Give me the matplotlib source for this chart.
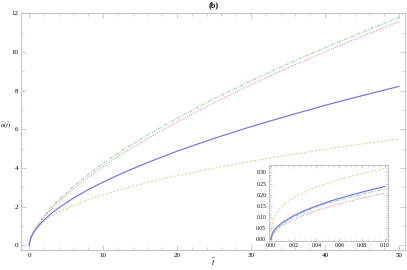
import matplotlib.pyplot as plt
from matplotlib.ticker import MultipleLocator

plt.rcParams['mathtext.fontset'] = 'stix'

# main panel: t values and the four curves
t_main = [0, 0.25, 0.5, 1, 2, 3, 4, 6, 8, 10, 13, 16, 20, 25, 30, 35, 40, 45, 50]
a_blue = [0, 0.397, 0.590, 0.877, 1.304, 1.644, 1.939, 2.444, 2.883, 3.273, 3.80,
          4.28, 4.87, 5.53, 6.14, 6.70, 7.24, 7.74, 8.22]
a_green = [0, 0.403, 0.627, 0.976, 1.517, 1.964, 2.360, 3.05, 3.67, 4.23, 5.00,
           5.70, 6.57, 7.58, 8.51, 9.39, 10.22, 11.02, 11.79]
a_red = [0, 0.371, 0.582, 0.914, 1.433, 1.863, 2.246, 2.92, 3.52, 4.07, 4.83,
         5.52, 6.38, 7.38, 8.31, 9.18, 10.01, 10.80, 11.58]
a_yellow = [0, 0.474, 0.653, 0.900, 1.241, 1.497, 1.711, 2.064, 2.358, 2.614, 2.95,
            3.25, 3.60, 3.99, 4.35, 4.67, 4.97, 5.24, 5.51]

# inset: early times
t_ins = [0, 0.002, 0.005, 0.01, 0.02, 0.03, 0.04, 0.05, 0.06, 0.07, 0.08, 0.09, 0.1]
b_blue = [0, 0.0335, 0.053, 0.075, 0.106, 0.130, 0.150, 0.168, 0.184, 0.198, 0.212, 0.225, 0.237]
b_green = [0, 0.030, 0.048, 0.069, 0.100, 0.124, 0.146, 0.163, 0.176, 0.190, 0.203, 0.215, 0.226]
b_red = [0, 0.025, 0.042, 0.062, 0.090, 0.111, 0.129, 0.145, 0.160, 0.173, 0.185, 0.196, 0.207]
b_yellow = [0, 0.0875, 0.118, 0.149, 0.187, 0.214, 0.235, 0.253, 0.269, 0.283, 0.295, 0.307, 0.318]

c_blue = '#6a6af2'
c_green = '#9ed49e'
c_red = '#e08cb0'
c_yellow = '#ddd49c'
frame = '#b8b8b8'
serif = 'Liberation Serif'


def style(ax, fs):
    for s in ax.spines.values():
        s.set_color(frame)
        s.set_linewidth(0.6)
    ax.tick_params(which='both', direction='in', top=True, right=True, colors=frame,
                   labelcolor='black', labelsize=fs, pad=2)
    ax.tick_params(which='major', length=3.5, width=0.5)
    ax.tick_params(which='minor', length=2, width=0.4)
    for lab in ax.get_xticklabels() + ax.get_yticklabels():
        lab.set_family(serif)


def curves(ax, t, bl, gr, rd, ye):
    ax.plot(t, ye, color=c_yellow, lw=0.8, dashes=(2, 1.5))
    ax.plot(t, rd, color=c_red, lw=0.8, dashes=(1, 1.2))
    ax.plot(t, gr, color=c_green, lw=0.8, dashes=(3, 1.2, 1, 1.2))
    ax.plot(t, bl, color=c_blue, lw=0.8)


fig = plt.figure(figsize=(4.07, 2.70), dpi=100)
ax = fig.add_axes([0.051, 0.074, 0.944, 0.879])
curves(ax, t_main, a_blue, a_green, a_red, a_yellow)
ax.set_xlim(-1.12, 50.8)
ax.set_ylim(-0.24, 12.03)
ax.xaxis.set_major_locator(MultipleLocator(10))
ax.xaxis.set_minor_locator(MultipleLocator(2))
ax.yaxis.set_major_locator(MultipleLocator(2))
ax.yaxis.set_minor_locator(MultipleLocator(1))
style(ax, 5)

fig.text(0.524, 0.982, '(b)', ha='center', va='center', fontsize=6,
         fontweight='bold', family=serif)
fig.text(0.524, 0.03, r'$\bar{t}$', ha='center', va='center', fontsize=6)
fig.text(0.0, 0.535, r'$\bar{a}(\bar{t})$', ha='left', va='center', fontsize=5)

ins = fig.add_axes([0.661, 0.1085, 0.293, 0.280])
curves(ins, t_ins, b_blue, b_green, b_red, b_yellow)
ins.set_xlim(-0.0015, 0.1029)
ins.set_ylim(-0.006, 0.333)
ins.xaxis.set_major_locator(MultipleLocator(0.02))
ins.xaxis.set_minor_locator(MultipleLocator(0.005))
ins.yaxis.set_major_locator(MultipleLocator(0.05))
ins.yaxis.set_minor_locator(MultipleLocator(0.01))
ins.xaxis.set_major_formatter('{x:.2f}')
ins.yaxis.set_major_formatter('{x:.2f}')
style(ins, 4)
ins.tick_params(which='major', length=2.5)
ins.tick_params(which='minor', length=1.3)

fig.savefig('out.png', dpi=100)
